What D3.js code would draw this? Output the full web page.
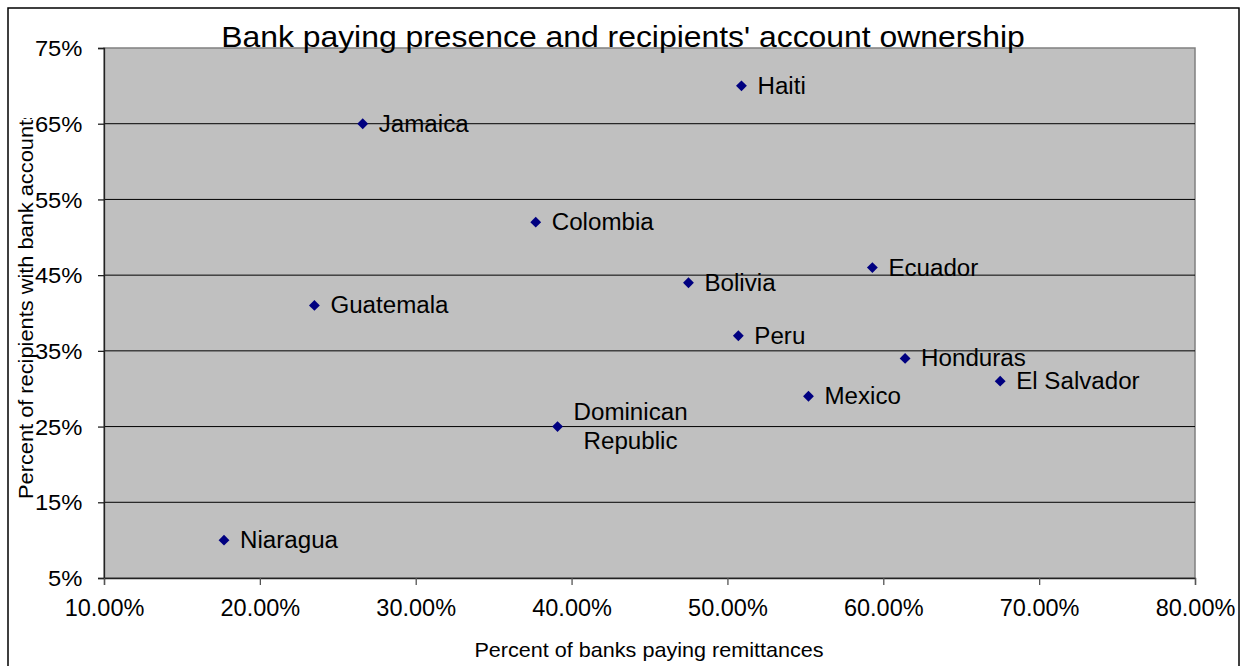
<!DOCTYPE html>
<html><head><meta charset="utf-8">
<script src="https://cdn.jsdelivr.net/npm/d3@7"></script>
<style>
html,body{margin:0;padding:0;background:#fff;}
svg{display:block;font-family:"Liberation Sans",Arial,sans-serif;}
</style></head>
<body>
<svg id="c" width="1248" height="666"></svg>
<script>
const countries = ["Haiti","Jamaica","Colombia","Ecuador","Bolivia","Guatemala","Peru","Honduras","El Salvador","Mexico","Dominican Republic","Niaragua"];
const bankPct   = [0.509,0.266,0.377,0.593,0.475,0.235,0.507,0.614,0.675,0.552,0.391,0.177];
const accountPct= [0.70,0.65,0.52,0.46,0.44,0.41,0.37,0.34,0.31,0.29,0.25,0.10];
const xTicks = [0.1,0.2,0.3,0.4,0.5,0.6,0.7,0.8];
const yTicks = [0.05,0.15,0.25,0.35,0.45,0.55,0.65,0.75];
const title = "Bank paying presence and recipients' account ownership";
const xTitle = "Percent of banks paying remittances";
const yTitle = "Percent of recipients with bank accounts";

const svg = d3.select("#c");
const L = 104, R = 1195, T = 48, B = 578;
const x = d3.scaleLinear().domain([0.1,0.8]).range([L,R]);
const y = d3.scaleLinear().domain([0.05,0.75]).range([B,T]);

// outer border
svg.append("rect").attr("x",8).attr("y",8).attr("width",1231).attr("height",670)
  .attr("fill","none").attr("stroke","#000").attr("stroke-width",1.5);

// plot area
svg.append("rect").attr("x",L).attr("y",T).attr("width",R-L).attr("height",B-T)
  .attr("fill","#c0c0c0").attr("stroke","#808080").attr("stroke-width",1.5);

// gridlines
svg.append("g").selectAll("line").data(yTicks.filter(d=>d>0.06 && d<0.74)).join("line")
  .attr("x1",L).attr("x2",R).attr("y1",d=>y(d)).attr("y2",d=>y(d))
  .attr("stroke","#000").attr("stroke-width",1);

// axes
const yAxis = svg.append("g").attr("transform",`translate(${L},0)`)
  .call(d3.axisLeft(y).tickValues(yTicks).tickFormat(d3.format(".0%")).tickSize(6).tickPadding(14));
yAxis.select(".domain").attr("stroke","#222").attr("stroke-width",1.3);
yAxis.selectAll(".tick line").attr("stroke","#222").attr("stroke-width",1.3);
yAxis.selectAll(".tick text").attr("font-size",22).attr("fill","#000").attr("font-family","Liberation Sans, Arial, sans-serif")
  .attr("dy","0.35em").attr("transform","scale(1.08,1)");

const xAxis = svg.append("g").attr("transform",`translate(0,${B})`)
  .call(d3.axisBottom(x).tickValues(xTicks).tickFormat(d3.format(".2%")).tickSize(7).tickPadding(14));
xAxis.select(".domain").attr("stroke","#222").attr("stroke-width",1.3);
xAxis.selectAll(".tick line").attr("stroke","#555").attr("stroke-width",1.3);
xAxis.selectAll(".tick text").attr("font-size",23.5).attr("fill","#000").attr("font-family","Liberation Sans, Arial, sans-serif");

// title
svg.append("text").attr("x",623).attr("y",47).attr("text-anchor","middle")
  .attr("font-size",29).attr("fill","#000")
  .attr("transform","translate(623,0) scale(1.1,1) translate(-623,0)")
  .text(title);

// axis titles
svg.append("text").attr("text-anchor","middle").attr("font-size",20)
  .attr("transform","translate(649,657) scale(1.08,1)").text(xTitle);

svg.append("clipPath").attr("id","yclip").append("rect")
  .attr("x",0).attr("y",118).attr("width",100).attr("height",550);
svg.append("g").attr("clip-path","url(#yclip)").append("text")
  .attr("text-anchor","start").attr("font-size",20)
  .attr("transform","translate(33,499) rotate(-90) scale(1.09,1)").text(yTitle);

// points
const data = countries.map((c,i)=>({c, bx:bankPct[i], ay:accountPct[i]}));
svg.append("g").selectAll("path").data(data).join("path")
  .attr("d", d3.symbol(d3.symbolDiamond2, 75)())
  .attr("transform", d=>`translate(${x(d.bx)},${y(d.ay)})`)
  .attr("fill","#000080");

// labels
const lab = svg.append("g").attr("font-size",23).attr("fill","#000");
data.forEach(d=>{
  const px = x(d.bx), py = y(d.ay);
  if (d.c === "Dominican Republic") {
    const t = lab.append("text").attr("text-anchor","middle")
      .attr("transform",`translate(${px+73},${py}) scale(1.05,1)`);
    t.append("tspan").attr("x",0).attr("y",-15).attr("dy","0.35em").text("Dominican");
    t.append("tspan").attr("x",0).attr("y",14).attr("dy","0.35em").text("Republic");
  } else {
    lab.append("text").attr("transform",`translate(${px+16},${py}) scale(1.05,1)`)
      .attr("dy","0.35em").text(d.c);
  }
});
</script>
</body></html>
